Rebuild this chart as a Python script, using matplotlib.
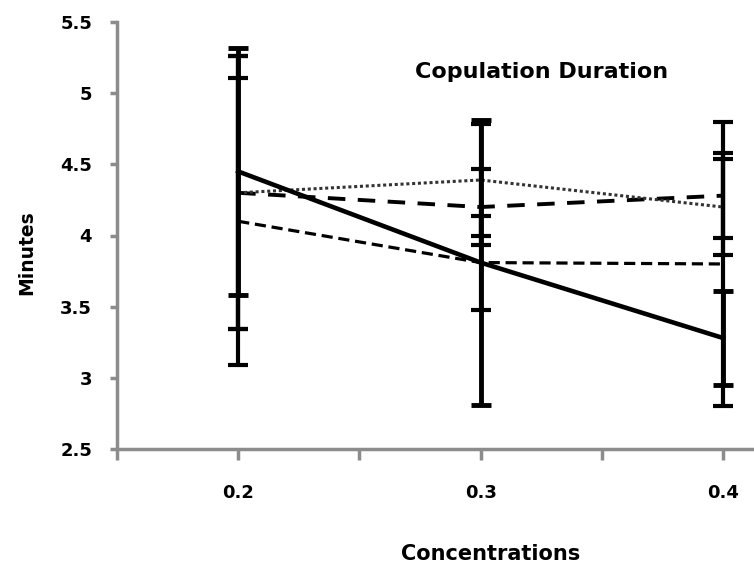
import matplotlib
matplotlib.use("Agg")
import matplotlib.pyplot as plt

plt.rcParams["font.family"] = ["DejaVu Sans"]
plt.rcParams["font.weight"] = "bold"

# concentrations on the x axis
conc = [0.2, 0.3, 0.4]

# mean copulation duration (minutes) for the four series
solid_mean = [4.45, 3.81, 3.28]
solid_err = [0.87, 1.0, 0.33]

dotted_mean = [4.30, 4.39, 4.20]
dotted_err = [0.96, 0.39, 0.34]

longdash_mean = [4.30, 4.20, 4.28]
longdash_err = [0.96, 0.27, 0.30]

meddash_mean = [4.10, 3.81, 3.80]
meddash_err = [1.01, 0.33, 1.0]

yticks = [2.5, 3, 3.5, 4, 4.5, 5, 5.5]
ytick_labels = ["2.5", "3", "3.5", "4", "4.5", "5", "5.5"]
xticks = [0.15, 0.2, 0.25, 0.3, 0.35, 0.4]

W, H = 754, 565
fig = plt.figure(figsize=(W / 100, H / 100), dpi=100)
ax = fig.add_axes([117 / W, 1 - 449 / H, 1 - 117 / W, (449 - 22) / H])

ax.errorbar(conc, meddash_mean, yerr=meddash_err, color="black",
            lw=2.3, ls=(0, (3.5, 1.8)), elinewidth=3, capsize=7, capthick=3, zorder=2)
ax.errorbar(conc, longdash_mean, yerr=longdash_err, color="black",
            lw=2.8, ls=(0, (4.5, 3.2)), elinewidth=3, capsize=7, capthick=3, zorder=2)
ax.errorbar(conc, dotted_mean, yerr=dotted_err, color="#333333", ecolor="black",
            lw=2.2, ls=(0, (1, 0.9)), elinewidth=3, capsize=7, capthick=3, zorder=3)
ax.errorbar(conc, solid_mean, yerr=solid_err, color="black",
            lw=3.3, ls="-", elinewidth=3.5, capsize=7, capthick=3.5, zorder=4)

ax.set_xlim(0.15, 0.15 + (W - 118) / 2420)
ax.set_ylim(2.5, 5.5)

spine_col = "#8c8c8c"
for side in ["top", "right"]:
    ax.spines[side].set_visible(False)
for side in ["left", "bottom"]:
    ax.spines[side].set_color(spine_col)
    ax.spines[side].set_linewidth(2.5)

ax.set_yticks(yticks)
ax.set_yticklabels(ytick_labels)
ax.set_xticks(xticks)
ax.set_xticklabels(["", "0.2", "", "0.3", "", "0.4"])
ax.tick_params(axis="y", direction="out", length=5, width=2.5, color=spine_col,
               pad=13, labelsize=13)
ax.tick_params(axis="x", direction="out", length=8, width=2.5, color=spine_col,
               pad=17, labelsize=13)
for lab in ax.get_xticklabels() + ax.get_yticklabels():
    lab.set_fontweight("bold")

fig.text(27 / W, 1 - 253 / H, "Minutes", rotation=90, ha="center", va="center",
         fontsize=13.5, fontweight="bold")
fig.text(491 / W, 1 - 544 / H, "Concentrations", ha="center", va="top",
         fontsize=15, fontweight="bold")
fig.text(542 / W, 1 - 72 / H, "Copulation Duration", ha="center", va="center",
         fontsize=16, fontweight="bold")

fig.savefig("out.png", dpi=100)
